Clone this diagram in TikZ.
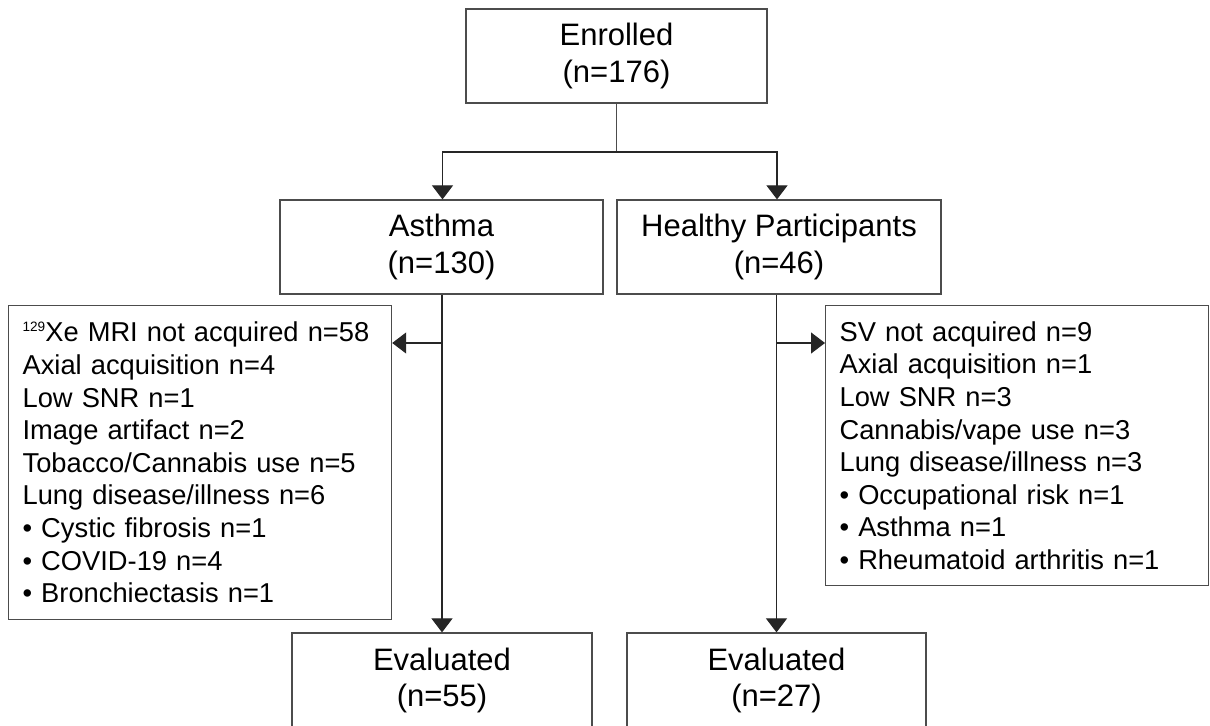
\documentclass[tikz,border=0pt]{standalone}
\usepackage{fontspec}
\setmainfont{Liberation Sans}
\usepackage{tikz}
\usetikzlibrary{calc,positioning,arrows.meta}

\newcommand{\titlefont}{\fontsize{15.5pt}{18.25pt}\selectfont}
\newcommand{\listfont}{\fontsize{13.65pt}{16.3pt}\selectfont}
\newcommand{\isotope}[1]{\raisebox{5pt}{\fontsize{6.8pt}{8pt}\selectfont #1}}

\tikzset{
    box/.style={draw=black!70, line width=0.6pt, minimum height=47pt,
        align=center, font=\titlefont, inner sep=0pt},
    listbox/.style={draw=black!70, line width=0.6pt, align=left,
        font=\listfont, inner xsep=7pt, inner ysep=0pt, anchor=north west,
        text width=177.5pt},
    arr/.style={-{Triangle[length=7pt,width=10.5pt]}, line width=0.6pt, draw=black!85}
}

\begin{document}
\begin{tikzpicture}[x=0.5pt, y=-0.5pt]

    \useasboundingbox (0,0) rectangle (1210,726);

    \node[box, minimum width=150.5pt] (enrolled) at (616.5,56) {Enrolled\\(n=176)};
    \node[box, minimum width=161.5pt] (asthma) at (441.5,247) {Asthma\\(n=130)};
    \node[box, minimum width=162pt] (healthy) at (779,247) {Healthy Participants\\(n=46)};

    \node[box, minimum width=150pt, minimum height=47.5pt] (evalA) at (442,680.5) {Evaluated\\(n=55)};
    \node[box, minimum width=149.5pt, minimum height=47.5pt] (evalH) at (776.5,680.5) {Evaluated\\(n=27)};

    % Exclusions, asthma
    \node[listbox, minimum height=157pt] (exclA) at (8,305) {%
        \mbox{\isotope{129}Xe MRI not acquired n=58}\\
        Axial acquisition n=4\\
        Low SNR n=1\\
        Image artifact n=2\\
        Tobacco/Cannabis use n=5\\
        Lung disease/illness n=6\\
        \textbullet\ Cystic fibrosis n=1\\
        \textbullet\ COVID-19 n=4\\
        \textbullet\ Bronchiectasis n=1};

    % Exclusions, healthy
    \node[listbox, minimum height=140pt] (exclH) at (825,305) {%
        SV not acquired n=9\\
        Axial acquisition n=1\\
        Low SNR n=3\\
        Cannabis/vape use n=3\\
        Lung disease/illness n=3\\
        \textbullet\ Occupational risk n=1\\
        \textbullet\ Asthma n=1\\
        \textbullet\ Rheumatoid arthritis n=1};

    % Split enrolled into groups.
    \coordinate (split) at (enrolled.south |- 0,152);
    \draw[line width=0.6pt, draw=black!70] (enrolled.south) -- (split);
    \draw[arr] (split) -| ([xshift=0.5pt]asthma.north);
    \draw[arr] (split) -| ([xshift=-1pt]healthy.north);

    % Down to evaluated.
    \draw[arr] (evalA.north |- asthma.south) -- (evalA.north);
    \draw[arr] (evalH.north |- healthy.south) -- (evalH.north);

    % Side arrows to exclusions.
    \coordinate (brA) at (evalA.north |- 0,343);
    \coordinate (brH) at (evalH.north |- 0,343);
    \draw[arr] (brA) -- (brA -| exclA.east);
    \draw[arr] (brH) -- (brH -| exclH.west);

\end{tikzpicture}
\end{document}
